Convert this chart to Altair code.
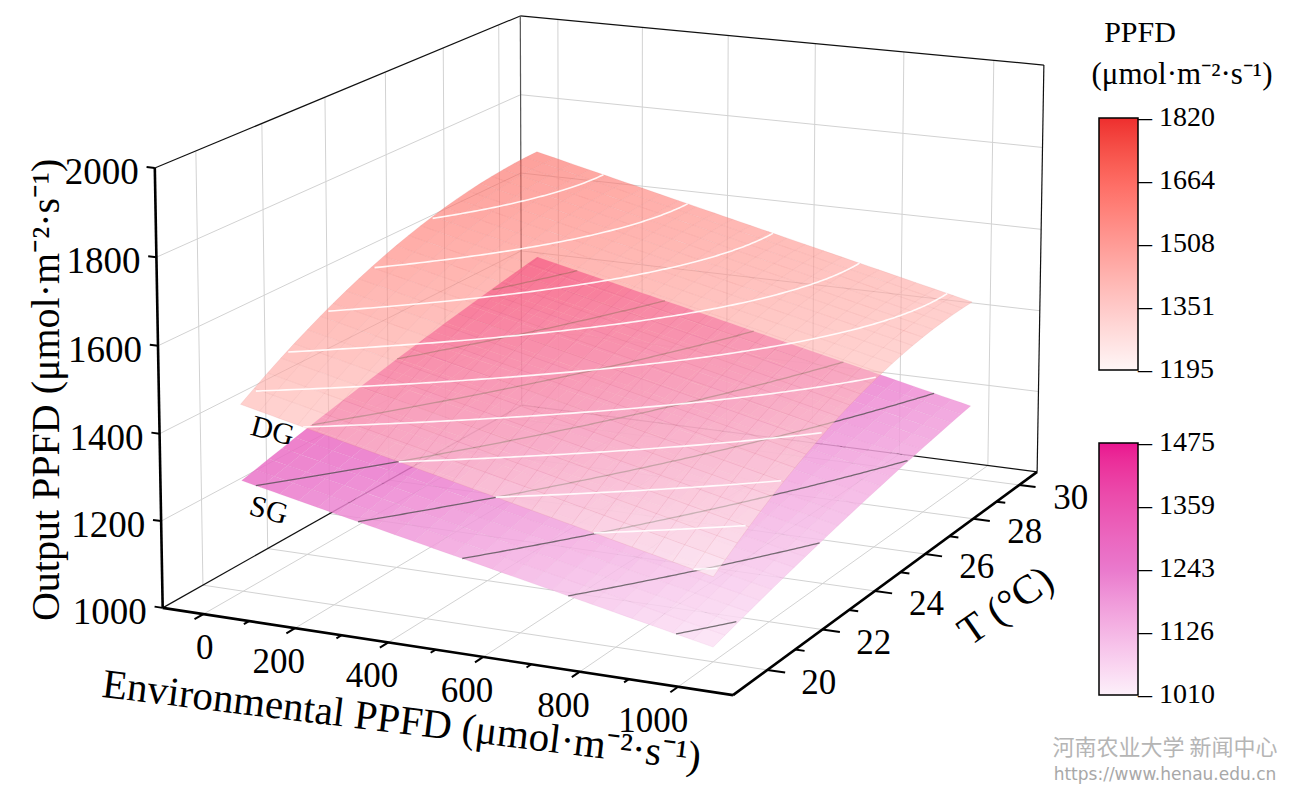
import numpy as np
import pandas as pd
import altair as alt

# ---------------- values ----------------
ppfd_major = [0, 200, 400, 600, 800, 1000]
ppfd_minor = [100, 300, 500, 700, 900]
temp_major = [20, 22, 24, 26, 28, 30]
temp_minor = [21, 23, 25, 27, 29]
out_major = [1000, 1200, 1400, 1600, 1800, 2000]

# surface values read at PPFD = 0/500/1000 (rows) and T = 20/25/30 (columns)
surf_ppfd = [0, 500, 1000]
surf_temp = [20, 25, 30]
dg_grid = [[1433, 1624, 1690],
           [1312, 1500, 1563],
           [1190, 1376, 1436]]
sg_grid = [[1257, 1350, 1423],
           [1145, 1234, 1302],
           [1033, 1117, 1180]]
dg_levels = [1200, 1250, 1300, 1350, 1400, 1450, 1500, 1550, 1600, 1650]
sg_levels = [1050, 1100, 1150, 1200, 1250, 1300, 1350, 1400]
dg_bar_ticks = [1195, 1351, 1508, 1664, 1820]
sg_bar_ticks = [1010, 1126, 1243, 1359, 1475]

# ranges of the 3-D box
ppfd_range = [-90, 1110]
temp_range = [18.8, 30.8]
out_range = [1000, 2000]

# ---------------- view / style ----------------
# picture pixels of seven corners of the unit box (x: PPFD, y: T, z: output)
BOX_CORNERS_PX = {
    (0, 0, 0): (162.5, 608), (1, 0, 0): (733, 695), (1, 1, 0): (1037, 472),
    (0, 1, 0): (522, 405), (0, 0, 1): (155, 168), (0, 1, 1): (520, 16),
    (1, 1, 1): (1044, 65),
}
SERIF = "Liberation Serif"
DG_DOMAIN, DG_RANGE = [1195, 1820], ["#fff6f6", "#ee2e2e"]
SG_DOMAIN, SG_RANGE = [1010, 1243, 1475], ["#fdf0fa", "#ea78cc", "#ea1490"]
UNIT = "(\u03bcmol\u00b7m\u207b\u00b2\u00b7s\u207b\u00b9)"
CX, CY, S = 640.0, 400.0, 500.0


def fit_camera(anchors):
    rows = []
    for (X, Y, Z), (u, v) in anchors.items():
        un, vn = (u - CX) / S, (v - CY) / S
        rows.append([X, Y, Z, 1, 0, 0, 0, 0, -un * X, -un * Y, -un * Z, -un])
        rows.append([0, 0, 0, 0, X, Y, Z, 1, -vn * X, -vn * Y, -vn * Z, -vn])
    _, _, vt = np.linalg.svd(np.array(rows, float))
    return vt[-1].reshape(3, 4)


CAM = fit_camera(BOX_CORNERS_PX)


def proj_unit(X, Y, Z):
    X, Y, Z = np.broadcast_arrays(np.atleast_1d(np.asarray(X, float)),
                                  np.atleast_1d(np.asarray(Y, float)),
                                  np.atleast_1d(np.asarray(Z, float)))
    h = CAM @ np.vstack([X.ravel(), Y.ravel(), Z.ravel(), np.ones(X.size)])
    return CX + S * h[0] / h[2], CY + S * h[1] / h[2]


def to_unit(P, T, Z):
    P = np.asarray(P, float); T = np.asarray(T, float); Z = np.asarray(Z, float)
    return ((P - ppfd_range[0]) / (ppfd_range[1] - ppfd_range[0]),
            (T - temp_range[0]) / (temp_range[1] - temp_range[0]),
            (Z - out_range[0]) / (out_range[1] - out_range[0]))


def proj(P, T, Z):
    return proj_unit(*to_unit(P, T, Z))


def lag3(x, nodes):
    a, b, c = nodes
    return [(x - b) * (x - c) / ((a - b) * (a - c)),
            (x - a) * (x - c) / ((b - a) * (b - c)),
            (x - a) * (x - b) / ((c - a) * (c - b))]


def surf(grid, P, T):
    lp = lag3(np.asarray(P, float), surf_ppfd)
    lt = lag3(np.asarray(T, float), surf_temp)
    z = 0.0
    for i in range(3):
        for j in range(3):
            z = z + grid[i][j] * lp[i] * lt[j]
    return z


def seg(a, b):
    x, y = proj_unit([a[0], b[0]], [a[1], b[1]], [a[2], b[2]])
    return np.column_stack([x, y])


def poly_df(polys):
    recs = []
    for g, pts in enumerate(polys):
        for o, (x, y) in enumerate(pts):
            recs.append({"g": g, "o": o, "x": round(float(x), 2), "y": round(float(y), 2)})
    return pd.DataFrame(recs)


def quad_rows(pts):
    xs = sorted(set(round(p[0], 3) for p in pts))
    rows = []
    for x in xs:
        ys = []
        for k in range(4):
            (x0, y0), (x1, y1) = pts[k], pts[(k + 1) % 4]
            if min(x0, x1) - 1e-3 <= x <= max(x0, x1) + 1e-3:
                if abs(x1 - x0) < 1e-6:
                    ys += [y0, y1]
                else:
                    ys.append(y0 + (x - x0) / (x1 - x0) * (y1 - y0))
        rows.append((x, min(ys), max(ys)))
    return rows


def surface_df(grid, n=24):
    Ps = np.linspace(0, 1000, n + 1)
    Ts = np.linspace(20, 30, n + 1)
    PP, TT = np.meshgrid(Ps, Ts, indexing="ij")
    ZZ = surf(grid, PP, TT)
    xs, ys = proj(PP.ravel(), TT.ravel(), ZZ.ravel())
    xs = xs.reshape(PP.shape); ys = ys.reshape(PP.shape)
    recs = []
    g = 0
    for i in range(n):
        for j in range(n):
            corners = [(xs[i, j], ys[i, j]), (xs[i + 1, j], ys[i + 1, j]),
                       (xs[i + 1, j + 1], ys[i + 1, j + 1]), (xs[i, j + 1], ys[i, j + 1])]
            val = float(ZZ[i:i + 2, j:j + 2].mean())
            for (x, lo, hi) in quad_rows(corners):
                recs.append({"g": g, "x": round(x, 2), "y": round(lo, 2),
                             "y2": round(hi, 2), "v": round(val, 1)})
            g += 1
    return pd.DataFrame(recs)


def mesh_polys(grid, n=24):
    polys = []
    fineP = np.linspace(0, 1000, 25)
    fineT = np.linspace(20, 30, 25)
    for T in np.linspace(20, 30, n + 1):
        x, y = proj(fineP, np.full_like(fineP, T), surf(grid, fineP, T))
        polys.append(np.column_stack([x, y]))
    for P in np.linspace(0, 1000, n + 1):
        x, y = proj(np.full_like(fineT, P), fineT, surf(grid, P, fineT))
        polys.append(np.column_stack([x, y]))
    return polys


def contour_polys(grid, levels):
    Tn = np.linspace(20, 30, 161)
    Pn = np.linspace(0, 1000, 501)
    polys = []
    for L in levels:
        cur = []
        for T in Tn:
            d = surf(grid, Pn, T) - L
            idx = np.where(d[:-1] * d[1:] <= 0)[0]
            if idx.size == 0:
                if len(cur) > 1:
                    polys.append(cur)
                cur = []
                continue
            i = idx[0]
            f = d[i] / (d[i] - d[i + 1]) if d[i] != d[i + 1] else 0.0
            cur.append((Pn[i] + f * (Pn[i + 1] - Pn[i]), T, L))
        if len(cur) > 1:
            polys.append(cur)
    out = []
    for c in polys:
        c = np.array(c)
        x, y = proj(c[:, 0], c[:, 1], c[:, 2])
        out.append(np.column_stack([x, y]))
    return out


uP = lambda P: (P - ppfd_range[0]) / (ppfd_range[1] - ppfd_range[0])
uT = lambda T: (T - temp_range[0]) / (temp_range[1] - temp_range[0])
uZ = lambda Z: (Z - out_range[0]) / (out_range[1] - out_range[0])

# box grid
grid_lines = []
for T in temp_major:
    grid_lines.append(seg((0, uT(T), 0), (0, uT(T), 1)))
    grid_lines.append(seg((0, uT(T), 0), (1, uT(T), 0)))
for P in ppfd_major:
    grid_lines.append(seg((uP(P), 1, 0), (uP(P), 1, 1)))
    grid_lines.append(seg((uP(P), 0, 0), (uP(P), 1, 0)))
for Z in out_major[1:-1]:
    grid_lines.append(seg((0, 0, uZ(Z)), (0, 1, uZ(Z))))
    grid_lines.append(seg((0, 1, uZ(Z)), (1, 1, uZ(Z))))

frame_lines = [seg((0, 0, 1), (0, 1, 1)), seg((0, 1, 1), (1, 1, 1)), seg((1, 1, 0), (1, 1, 1)),
               seg((0, 0, 0), (0, 1, 0)), seg((0, 1, 0), (1, 1, 0))]
back_edge = [seg((0, 1, 0), (0, 1, 1))]
axis_lines = [seg((0, 0, 0), (0, 0, 1)), seg((0, 0, 0), (1, 0, 0)), seg((1, 0, 0), (1, 1, 0))]
tick_lines = []
for Z in out_major:
    tick_lines.append(seg((0, 0, uZ(Z)), (-0.015, 0, uZ(Z))))
for P in ppfd_major:
    tick_lines.append(seg((uP(P), 0, 0), (uP(P), -0.022, 0)))
for P in ppfd_minor:
    tick_lines.append(seg((uP(P), 0, 0), (uP(P), -0.013, 0)))
for T in temp_major:
    tick_lines.append(seg((1, uT(T), 0), (1.03, uT(T), 0)))
for T in temp_minor:
    tick_lines.append(seg((1, uT(T), 0), (1.016, uT(T), 0)))

X_SC = alt.Scale(domain=[8, 1285], nice=False, zero=False)
Y_SC = alt.Scale(domain=[792, 8], nice=False, zero=False)


def line_layer(polys, color, width, opacity=1.0, cap="butt"):
    return alt.Chart(poly_df(polys)).mark_line(
        color=color, strokeWidth=width, opacity=opacity, strokeCap=cap
    ).encode(x=alt.X("x:Q", scale=X_SC, axis=None),
             y=alt.Y("y:Q", scale=Y_SC, axis=None),
             detail="g:N", order="o:Q")


def legend(values, ly):
    lo, hi = values[0], values[-1]
    vals = [lo + 0.2] + values[1:-1] + [hi - 0.2]   # keep end labels centred on the bar ends
    return alt.Legend(orient="none", legendX=1091, legendY=ly, title=None, direction="vertical",
                      gradientLength=252, gradientThickness=39, gradientStrokeColor="black",
                      gradientStrokeWidth=1.5, values=vals, format="d",
                      labelExpr="'\u2013 ' + datum.label", labelFont=SERIF, labelFontSize=28,
                      labelColor="black", labelOverlap=False, labelBaseline="middle",
                      labelOffset=0, padding=0)


def surface_layer(grid, domain, rng, opacity, values, ly):
    return alt.Chart(surface_df(grid)).mark_area(fillOpacity=opacity, interpolate="linear").encode(
        x=alt.X("x:Q", scale=X_SC, axis=None),
        y=alt.Y("y:Q", scale=Y_SC, axis=None, stack=False),
        y2="y2:Q",
        detail="g:N",
        fill=alt.Fill("v:Q", scale=alt.Scale(domain=domain, range=rng), legend=legend(values, ly)),
    )


def text_layer(df, **kw):
    return alt.Chart(df).mark_text(font=SERIF, color="black", **kw).encode(
        x=alt.X("x:Q", scale=X_SC, axis=None), y=alt.Y("y:Q", scale=Y_SC, axis=None), text="t:N")


def rotated_offset(ox, oy, angle):
    # Vega applies dx/dy in the rotated frame of the text
    a = np.deg2rad(angle)
    return (float(ox * np.cos(a) + oy * np.sin(a)), float(-ox * np.sin(a) + oy * np.cos(a)))


def pts_df(xs, ys, texts):
    return pd.DataFrame({"x": np.round(xs, 2), "y": np.round(ys, 2), "t": texts})


def title_layer(x, y, text, ox, oy, angle, size):
    dx, dy = rotated_offset(ox, oy, angle)
    return text_layer(pts_df(x, y, [text]), align="center", baseline="middle",
                      dx=dx, dy=dy, angle=angle, fontSize=size)


zx, zy = proj([ppfd_range[0]] * 6, [temp_range[0]] * 6, out_major)
px, py = proj(ppfd_major, [temp_range[0]] * 6, [out_range[0]] * 6)
tx, ty = proj([ppfd_range[1]] * 6, temp_major, [out_range[0]] * 6)
yt_x, yt_y = proj(ppfd_range[0], temp_range[0], 1500)
xt_x, xt_y = proj(500, temp_range[0], out_range[0])
tt_x, tt_y = proj(ppfd_range[1], 25, out_range[0])
dg_x, dg_y = proj(0, 20, dg_grid[0][0])
sg_x, sg_y = proj(0, 20, sg_grid[0][0])

layers = [
    line_layer(grid_lines, "#d2d2d2", 1.0),
    line_layer(frame_lines, "#111111", 1.2),
    line_layer(back_edge, "#555555", 1.2),
    surface_layer(sg_grid, SG_DOMAIN, SG_RANGE, 0.85, sg_bar_ticks, 435),
    line_layer(mesh_polys(sg_grid), "#c85aa8", 0.5, 0.18),
    line_layer(contour_polys(sg_grid, sg_levels), "#4a4a4a", 1.3, 0.75),
    surface_layer(dg_grid, DG_DOMAIN, DG_RANGE, 0.6, dg_bar_ticks, 110),
    line_layer(mesh_polys(dg_grid), "#d06a6a", 0.5, 0.25),
    line_layer(contour_polys(dg_grid, dg_levels), "#ffffff", 1.6, 0.9),
    line_layer(axis_lines, "#000000", 2.6),
    line_layer(tick_lines, "#000000", 2.0),
    text_layer(pts_df(zx, zy, [str(v) for v in out_major]), align="right", baseline="middle",
               dx=-16, dy=5, fontSize=37),
    text_layer(pts_df(px, py, [str(v) for v in ppfd_major]), align="right", baseline="middle",
               dx=10, dy=34, fontSize=35),
    text_layer(pts_df(tx, ty, [str(v) for v in temp_major]), align="left", baseline="middle",
               dx=34, dy=13, fontSize=35),
    title_layer(yt_x, yt_y, "Output PPFD " + UNIT, -112, 0, 270, 40),
    title_layer(xt_x, xt_y, "Environmental PPFD " + UNIT, -34, 72, 7, 41),
    title_layer(tt_x, tt_y, "T (\u00b0C)", 106, 34, 325, 41),
    title_layer(dg_x, dg_y, "DG", 32, 27, 15, 30),
    title_layer(sg_x, sg_y, "SG", 27, 30, 15, 30),
    text_layer(pts_df([1140], [33], ["PPFD"]), align="center", baseline="middle", fontSize=30),
    text_layer(pts_df([1182], [75], [UNIT]), align="center", baseline="middle", fontSize=31),
    alt.Chart(pts_df([1165], [748], ["\u6cb3\u5357\u519c\u4e1a\u5927\u5b66 \u65b0\u95fb\u4e2d\u5fc3"])).mark_text(
        font="Noto Sans CJK SC", fontSize=22, color="#b5b5b5", align="center", baseline="middle"
    ).encode(x=alt.X("x:Q", scale=X_SC, axis=None), y=alt.Y("y:Q", scale=Y_SC, axis=None), text="t:N"),
    alt.Chart(pts_df([1165], [775], ["https://www.henau.edu.cn"])).mark_text(
        font="DejaVu Sans", fontSize=17, color="#a8a8a8", align="center", baseline="middle"
    ).encode(x=alt.X("x:Q", scale=X_SC, axis=None), y=alt.Y("y:Q", scale=Y_SC, axis=None), text="t:N"),
]

chart = alt.layer(*layers).resolve_scale(fill="independent").properties(
    width=1277, height=784, padding=0, autosize=alt.AutoSizeParams(type="none"),
    background="white",
).configure_view(stroke=None)

chart.save("out.html", embed_options={"renderer": "svg", "actions": False})
